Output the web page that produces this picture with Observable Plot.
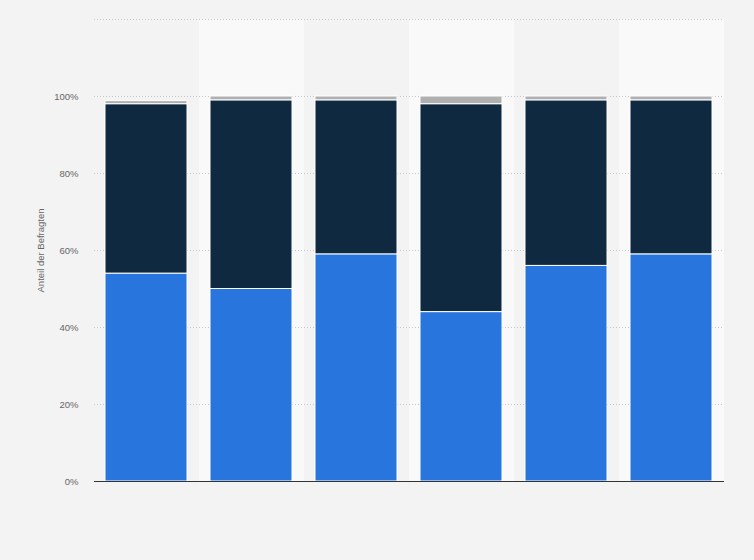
<!DOCTYPE html>
<html>
<head>
<meta charset="utf-8">
<script src="https://cdn.jsdelivr.net/npm/d3@7"></script>
<script src="https://cdn.jsdelivr.net/npm/@observablehq/plot@0.6"></script>
<style>
  html, body { margin: 0; padding: 0; background: #f3f3f3; }
  #chart { width: 754px; height: 560px; }
  svg { display: block; }
</style>
</head>
<body>
<div id="chart"></div>
<script>
// Data (percent of respondents)
const categories = ["1", "2", "3", "4", "5", "6"];
const seriesNames = ["Ja", "Nein", "Weiß nicht"];
const valuesJa = [54, 50, 59, 44, 56, 59];
const valuesNein = [44, 49, 40, 54, 43, 40];
const valuesWeissNicht = [0.8, 1, 1, 2, 1, 1];
const yTicks = [0, 20, 40, 60, 80, 100];
const gridTicks = [20, 40, 60, 80, 100, 120];
const colors = ["#2876dd", "#0f2940", "#b0b0b0"];
const yLabel = "Anteil der Befragten";

const seriesValues = [valuesJa, valuesNein, valuesWeissNicht];
const rows = [];
categories.forEach((c, i) => {
  seriesNames.forEach((s, j) => {
    rows.push({ category: c, series: s, value: seriesValues[j][i] });
  });
});
const bandCats = categories.filter((c, i) => i % 2 === 1);

const plot = Plot.plot({
  width: 754,
  height: 560,
  marginTop: 19,
  marginBottom: 79,
  marginLeft: 94,
  marginRight: 30,
  style: { background: "transparent", fontFamily: "'Liberation Sans', Arial, sans-serif", fontSize: "9.5px", color: "#666" },
  x: { domain: categories, padding: 0, axis: null },
  y: { domain: [0, 120] },
  color: { domain: seriesNames, range: colors },
  marks: [
    Plot.barY(bandCats, { x: d => d, y1: 0, y2: 120, fill: "#f9f9f9" }),
    Plot.gridY(gridTicks, { stroke: "#c8c8c8", strokeOpacity: 1, strokeDasharray: "1,2" }),
    Plot.axisY(yTicks, {
      tickSize: 0,
      tickPadding: 16,
      tickFormat: d => d + "%",
      fill: "#666",
      label: null
    }),
    Plot.barY(rows, {
      x: "category",
      y: "value",
      fill: "series",
      order: seriesNames,
      stroke: "#ffffff",
      strokeWidth: 1,
      insetLeft: 11,
      insetRight: 12
    }),
    Plot.ruleY([0], { stroke: "#333", strokeWidth: 1 }),
    Plot.text([yLabel], { frameAnchor: "left", rotate: -90, dx: -54, textAnchor: "middle", fill: "#666", fontSize: 9.5 })
  ]
});
document.getElementById("chart").appendChild(plot);
</script>
</body>
</html>
